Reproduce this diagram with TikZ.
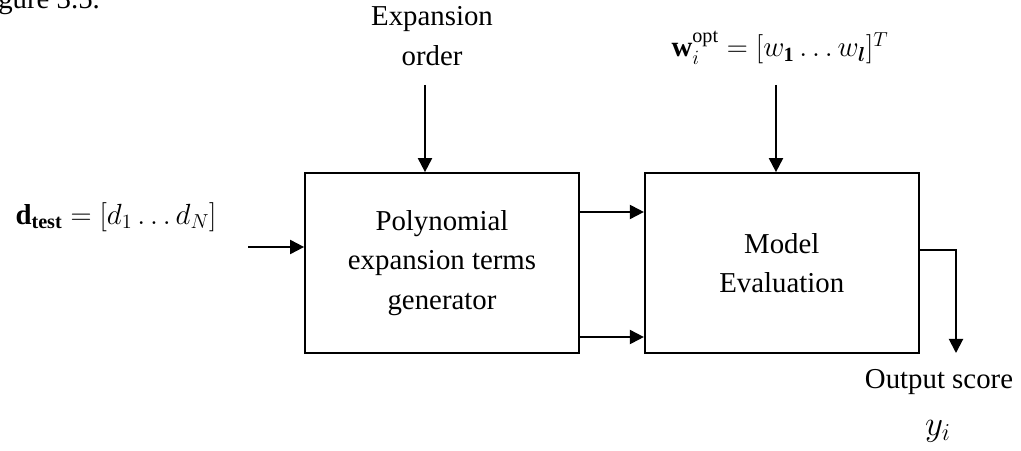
\documentclass[tikz,border=0pt]{standalone}
\usepackage{amsmath}
\usepackage{amssymb}
\usepackage{bm}
\usepackage{fontspec}
\setmainfont{Liberation Serif}
\usetikzlibrary{arrows.meta,positioning}

\begin{document}
\begin{tikzpicture}[x=0.025cm,y=-0.025cm,
		font=\fontsize{20.5}{28}\selectfont,
		block/.style={rectangle,draw=black,line width=1.2pt,minimum width=6.85cm,minimum height=4.5cm,align=center,inner sep=0mm},
		sig/.style={line width=1.4pt,-{Triangle[length=10pt,width=10pt]}},
		lbl/.style={align=center,inner sep=0mm}
	]
		\useasboundingbox (0,0) rectangle (1021,451);
		\clip (0,0) rectangle (1021,451);
		\node[lbl,anchor=base west] (caption) at (-2,8.5) {gure 3.5.};
		\node[block] (poly) at (442,263) {Polynomial\\expansion terms\\generator};
		\node[block] (model)[right=1.6cm of poly] {Model\\Evaluation};

		\node[lbl] (order) at (432,36) {Expansion\\order};
		\node[lbl] (wopt) at (780,48) {$\mathbf{w}_i^{\mathrm{opt}} = [w_{\mathbf{1}} \ldots w_{\boldsymbol{l}}]^T$};
		\node[lbl] (dtest) at (116,217) {$\mathbf{d}_{\mathbf{test}} = [d_1 \ldots d_N]$};
		\node[lbl] (score) at (939,382) {Output score};
		\node[lbl] (yout) at (938,431) {\fontsize{24}{28}\selectfont $y_i$};

		\coordinate (din) at (248,247);
		\coordinate (ordtop) at (425,85);
		\coordinate (wtop) at (776,85);
		\coordinate (yend) at (956,353);

		\draw[sig] (din) -- (din -| poly.west);
		\draw[sig] (ordtop) -- (ordtop |- poly.north);
		\draw[sig] (wtop) -- (wtop |- model.north);
		\draw[sig] ([yshift=1.275cm]poly.east) -- ([yshift=1.275cm]model.west);
		\draw[sig] ([yshift=-1.85cm]poly.east) -- ([yshift=-1.85cm]model.west);
		\draw[sig] ([yshift=0.325cm]model.east) -| (yend);
	\end{tikzpicture}
\end{document}
